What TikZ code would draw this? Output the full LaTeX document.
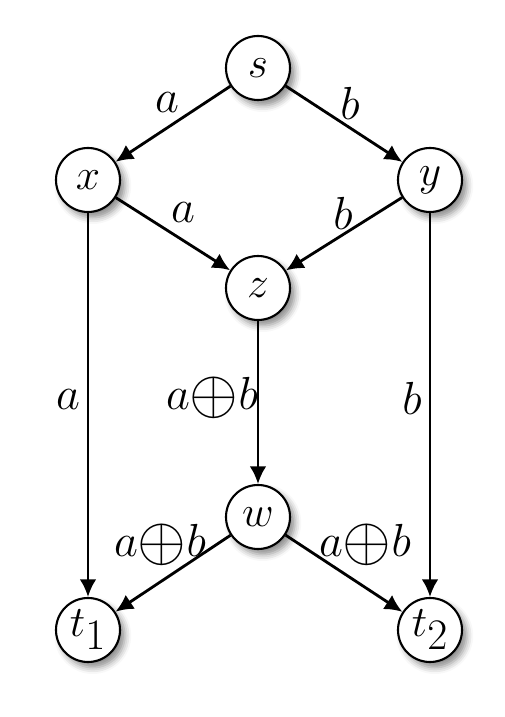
\RequirePackage{fix-cm}
\documentclass[tikz,border=0pt]{standalone}
\usepackage{amsmath}
\usetikzlibrary{arrows.meta,shadows.blur}
\tikzset{
	vertex/.style={circle, draw=black, line width=1.5pt, fill=white, minimum size=1.6cm, inner sep=0pt,
		font=\fontsize{31}{36}\selectfont,
		blur shadow={shadow xshift=1.2mm, shadow yshift=-1.4mm, shadow blur radius=1.6mm, shadow opacity=45}},
	flow/.style={line width=2pt, -{Latex[length=4.4mm,width=4.2mm]}},
	lab/.style={font=\fontsize{33}{38}\selectfont, inner sep=1pt}
}
\newcommand{\xsum}{a\mathord{\vcenter{\hbox{\scalebox{1.35}{$\oplus$}}}}b}
\begin{document}
\begin{tikzpicture}
	\useasboundingbox (0,0) rectangle (12.6,17.925);
	\node[vertex] (s) at (6.45,16.225) {$s$};
	\node[vertex] (x) at (2.2,13.425) {$x$};
	\node[vertex] (y) at (10.75,13.425) {$y$};
	\node[vertex] (z) at (6.45,10.725) {$z$};
	\node[vertex] (w) at (6.45,5.0) {$w$};
	\node[vertex] (t1) at (2.2,2.175) {$t_{\textstyle 1}$};
	\node[vertex] (t2) at (10.75,2.175) {$t_{\textstyle 2}$};
	\draw[flow] (s) -- (x);
	\draw[flow] (s) -- (y);
	\draw[flow] (x) -- (z);
	\draw[flow] (y) -- (z);
	\draw[flow] (x) -- (t1);
	\draw[flow] (y) -- (t2);
	\draw[flow] (z) -- (w);
	\draw[flow] (w) -- (t1);
	\draw[flow] (w) -- (t2);
	% edge labels
	\node[lab] (la1) at (4.175,15.35) {$a$};
	\node[lab] (lb1) at (8.75,15.35) {$b$};
	\node[lab] (la2) at (4.575,12.6) {$a$};
	\node[lab] (lb2) at (8.575,12.6) {$b$};
	\node[lab] (la3) at (1.7,7.925) {$a$};
	\node[lab] (lab1) at (5.3,7.975) {$\xsum$};
	\node[lab] (lb3) at (10.3,7.975) {$b$};
	\node[lab] (lab2) at (4.0,4.3) {$\xsum$};
	\node[lab] (lab3) at (9.125,4.3) {$\xsum$};
\end{tikzpicture}
\end{document}
